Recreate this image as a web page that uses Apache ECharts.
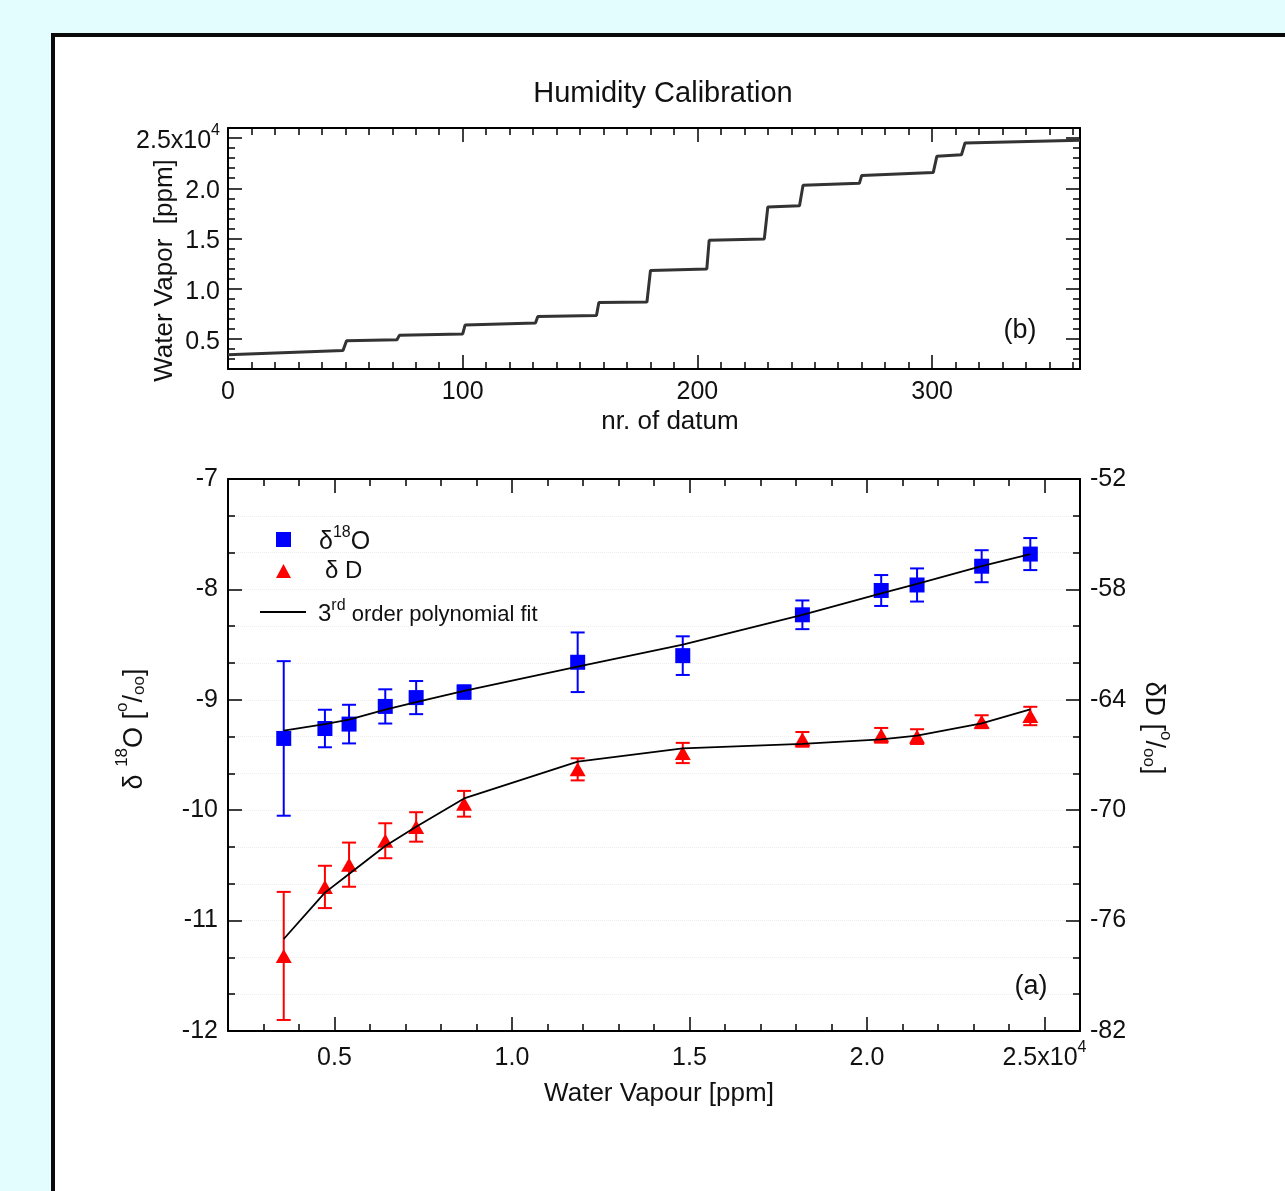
<!DOCTYPE html>
<html>
<head>
<meta charset="utf-8">
<script src="https://cdn.jsdelivr.net/npm/echarts@6/dist/echarts.min.js"></script>
<style>
  html, body { margin: 0; padding: 0; background: #e3fcfd; overflow: hidden; }
  #panel { position: absolute; left: 51px; top: 33px; width: 1400px; height: 1300px; border: 4px solid #0a0a0a; background: #fff; box-sizing: border-box; }
  #chart { position: absolute; left: 0; top: 0; width: 1285px; height: 1191px; }
</style>
</head>
<body>
<div id="panel"></div>
<div id="chart"></div>
<script>
// ---------------- data ----------------
// (b) water vapour record: corner points [nr. of datum, ppm]
const datumIndex = [0, 49, 50.5, 72, 73, 100, 101, 131, 132, 157, 158, 178.5, 180, 204, 205, 228.5, 230, 243.5, 245, 269, 270, 300.5, 302, 312.5, 314, 363];
const vaporPpm   = [3420, 3850, 4820, 4920, 5350, 5490, 6380, 6580, 7240, 7340, 8630, 8670, 11820, 11960, 14810, 14950, 18140, 18260, 20290, 20490, 21280, 21580, 23180, 23340, 24510, 24770];

// (a) calibration points
const vapourLevels = [3570, 4730, 5410, 6430, 7300, 8650, 11850, 14810, 18180, 20400, 21410, 23230, 24600];
const d18O      = [-9.35, -9.26, -9.22, -9.06, -8.98, -8.93, -8.66, -8.60, -8.23, -8.01, -7.96, -7.79, -7.68];
const d18OErr   = [0.70, 0.17, 0.175, 0.155, 0.15, 0.06, 0.27, 0.175, 0.13, 0.14, 0.15, 0.145, 0.145];
const d18OFit   = [-9.28, -9.22, -9.18, -9.09, -9.02, -8.92, -8.70, -8.50, -8.23, -8.035, -7.95, -7.79, -7.68];
const dD        = [-77.92, -74.17, -72.96, -71.66, -70.91, -69.65, -67.78, -66.89, -66.15, -65.93, -66.00, -65.19, -64.88];
const dDErr     = [3.48, 1.15, 1.2, 0.95, 0.8, 0.7, 0.6, 0.55, 0.4, 0.4, 0.4, 0.35, 0.5];
const dDFit     = [-77.0, -74.48, -73.47, -71.95, -70.90, -69.36, -67.36, -66.64, -66.40, -66.15, -65.95, -65.28, -64.52];

// tick labels
const vapourTicks = [5000, 10000, 15000, 20000, 25000];
const datumTicks  = [0, 100, 200, 300];
const d18OTicks   = [-12, -11, -10, -9, -8, -7];
const dDTicks     = [-82, -76, -70, -64, -58, -52];

// ---------------- styling helpers ----------------
const FONT = '"Liberation Sans", Arial, Helvetica, sans-serif';
const TXT = '#111';
const AX = '#000';
const LBL = 25;

const richLbl = {
  n:   { fontSize: LBL, fontFamily: FONT, color: TXT, lineHeight: 31, verticalAlign: 'bottom' },
  sup: { fontSize: 16, fontFamily: FONT, color: TXT, lineHeight: 16, verticalAlign: 'top' }
};
const richName = {
  n:   { fontSize: 27, fontFamily: FONT, color: TXT, lineHeight: 34, verticalAlign: 'bottom' },
  sup: { fontSize: 17, fontFamily: FONT, color: TXT, lineHeight: 17, verticalAlign: 'top' },
  sub: { fontSize: 17, fontFamily: FONT, color: TXT, lineHeight: 17, verticalAlign: 'bottom' }
};
function vapourLabel(v) {
  return v === 25000 ? '{n|2.5x10}{sup|4}' : '{n|' + (v / 10000).toFixed(1) + '}';
}

function baseAxis(o) {
  return Object.assign({
    type: 'value',
    nameMoveOverlap: false,
    axisLine: { show: true, onZero: false, lineStyle: { color: AX, width: 2 } },
    axisTick: { show: true, inside: true, length: 14, lineStyle: { color: AX, width: 1.5 } },
    axisLabel: { show: false },
    splitLine: { show: false },
    minorTick: { show: false },
    minorSplitLine: { show: false }
  }, o);
}
function minorAxis(o) {
  return Object.assign({
    type: 'value',
    axisLine: { show: false, onZero: false },
    axisTick: { show: true, inside: true, length: 7, lineStyle: { color: AX, width: 1.5 } },
    axisLabel: { show: false },
    splitLine: { show: false }
  }, o);
}

function errRender(color) {
  return function (params, api) {
    const x = api.value(0), lo = api.value(1), hi = api.value(2);
    const p1 = api.coord([x, hi]), p2 = api.coord([x, lo]);
    const w = 7;
    const style = { stroke: color, lineWidth: 2 };
    return {
      type: 'group',
      children: [
        { type: 'line', shape: { x1: p1[0], y1: p1[1], x2: p2[0], y2: p2[1] }, style: style },
        { type: 'line', shape: { x1: p1[0] - w, y1: p1[1], x2: p1[0] + w, y2: p1[1] }, style: style },
        { type: 'line', shape: { x1: p2[0] - w, y1: p2[1], x2: p2[0] + w, y2: p2[1] }, style: style }
      ]
    };
  };
}

const stepData = datumIndex.map((d, i) => [d, vaporPpm[i]]);
const oErrData = vapourLevels.map((x, i) => [x, d18O[i] - d18OErr[i], d18O[i] + d18OErr[i]]);
const dErrData = vapourLevels.map((x, i) => [x, dD[i] - dDErr[i], dD[i] + dDErr[i]]);
const oPts = vapourLevels.map((x, i) => [x, d18O[i]]);
const dPts = vapourLevels.map((x, i) => [x, dD[i]]);
const oFit = vapourLevels.map((x, i) => [x, d18OFit[i]]);
const dFit = vapourLevels.map((x, i) => [x, dDFit[i]]);

const chart = echarts.init(document.getElementById('chart'), null, { renderer: 'canvas' });

const option = {
  animation: false,
  backgroundColor: 'transparent',
  textStyle: { fontFamily: FONT },
  title: {
    text: 'Humidity Calibration',
    left: 658, top: 74, textAlign: 'center',
    textStyle: { fontSize: 29, fontWeight: 'normal', color: TXT, fontFamily: FONT }
  },
  grid: [
    { left: 228, top: 128, width: 852, height: 241, outerBoundsMode: 'none', containLabel: false },
    { left: 228, top: 479, width: 852, height: 552, outerBoundsMode: 'none', containLabel: false }
  ],
  xAxis: [
    // top chart
    baseAxis({
      gridIndex: 0, position: 'bottom', min: 0, max: 363, interval: 100,
      axisLabel: { show: true, margin: 11, fontSize: LBL, color: TXT, fontFamily: FONT,
        customValues: datumTicks, formatter: v => String(v) },
      axisTick: { show: true, inside: true, length: 14, customValues: datumTicks, lineStyle: { color: AX, width: 1.5 } },
      name: 'nr. of datum', nameLocation: 'middle', nameGap: 40,
      nameTextStyle: { fontSize: 26, color: TXT, fontFamily: FONT, padding: [0, 0, 0, 32] }
    }),
    minorAxis({ gridIndex: 0, position: 'bottom', min: 0, max: 363, interval: 10 }),
    baseAxis({ gridIndex: 0, position: 'top', min: 0, max: 363,
      axisTick: { show: true, inside: true, length: 14, customValues: datumTicks, lineStyle: { color: AX, width: 1.5 } } }),
    minorAxis({ gridIndex: 0, position: 'top', min: 0, max: 363, interval: 10 }),
    // bottom chart
    baseAxis({
      gridIndex: 1, position: 'bottom', min: 2000, max: 26000,
      axisLabel: { show: true, margin: 9, customValues: vapourTicks, formatter: vapourLabel, rich: richLbl },
      axisTick: { show: true, inside: true, length: 14, customValues: vapourTicks, lineStyle: { color: AX, width: 1.5 } },
      name: 'Water Vapour [ppm]', nameLocation: 'middle', nameGap: 50,
      nameTextStyle: { fontSize: 26, color: TXT, fontFamily: FONT, padding: [0, 0, 0, 10] }
    }),
    minorAxis({ gridIndex: 1, position: 'bottom', min: 2000, max: 26000, interval: 1000 }),
    baseAxis({ gridIndex: 1, position: 'top', min: 2000, max: 26000,
      axisTick: { show: true, inside: true, length: 14, customValues: vapourTicks, lineStyle: { color: AX, width: 1.5 } } }),
    minorAxis({ gridIndex: 1, position: 'top', min: 2000, max: 26000, interval: 1000 })
  ],
  yAxis: [
    // top chart
    baseAxis({
      gridIndex: 0, position: 'left', min: 2000, max: 26000,
      axisLabel: { show: true, margin: 8, customValues: vapourTicks, formatter: vapourLabel, rich: richLbl },
      axisTick: { show: true, inside: true, length: 14, customValues: vapourTicks, lineStyle: { color: AX, width: 1.5 } },
      name: 'Water Vapor  [ppm]', nameLocation: 'middle', nameRotate: 90, nameGap: 50,
      nameTextStyle: { fontSize: 26, color: TXT, fontFamily: FONT, padding: [0, 44, 0, 0] }
    }),
    minorAxis({ gridIndex: 0, position: 'left', min: 2000, max: 26000, interval: 1000 }),
    baseAxis({ gridIndex: 0, position: 'right', min: 2000, max: 26000,
      axisTick: { show: true, inside: true, length: 14, customValues: vapourTicks, lineStyle: { color: AX, width: 1.5 } } }),
    minorAxis({ gridIndex: 0, position: 'right', min: 2000, max: 26000, interval: 1000 }),
    // bottom chart left: delta 18O
    baseAxis({
      gridIndex: 1, position: 'left', min: -12, max: -7, interval: 1,
      axisLabel: { show: true, margin: 10, fontSize: LBL, color: TXT, fontFamily: FONT, formatter: v => String(v) },
      minorTick: { show: true, splitNumber: 3, length: 7, lineStyle: { color: AX, width: 1.5 } },
      splitLine: { show: true, lineStyle: { color: '#ededed', type: 'dotted', width: 1 } },
      minorSplitLine: { show: true, lineStyle: { color: '#ededed', type: 'dotted', width: 1 } },
      name: '{n|δ }{sup|18}{n|O [}{sup|o}{n|/}{sub|oo}{n|]}',
      nameLocation: 'middle', nameRotate: 90, nameGap: 80,
      nameTextStyle: { rich: richName, padding: [0, 0, 0, 52] }
    }),
    // bottom chart right: delta D
    baseAxis({
      gridIndex: 1, position: 'right', min: -82, max: -52,
      axisLabel: { show: true, margin: 10, fontSize: LBL, color: TXT, fontFamily: FONT,
        customValues: dDTicks, formatter: v => String(v) },
      axisTick: { show: true, inside: true, length: 14, customValues: dDTicks, lineStyle: { color: AX, width: 1.5 } },
      name: '{n|δD [}{sup|o}{n|/}{sub|oo}{n|]}',
      nameLocation: 'middle', nameRotate: -90, nameGap: 60,
      nameTextStyle: { rich: richName, padding: [0, 54, 0, 0] }
    }),
    minorAxis({ gridIndex: 1, position: 'right', min: -82, max: -52, interval: 2 })
  ],
  series: [
    {
      name: 'Water vapor', type: 'line', xAxisIndex: 0, yAxisIndex: 0,
      data: stepData, showSymbol: false, symbol: 'none',
      lineStyle: { color: '#333', width: 3 }, z: 3
    },
    {
      name: 'δ18O error', type: 'custom', xAxisIndex: 4, yAxisIndex: 4,
      data: oErrData, encode: { x: 0, y: [1, 2] }, renderItem: errRender('#0000ff'), z: 2
    },
    {
      name: 'δD error', type: 'custom', xAxisIndex: 4, yAxisIndex: 5,
      data: dErrData, encode: { x: 0, y: [1, 2] }, renderItem: errRender('#ff0000'), z: 2
    },
    {
      name: 'δ18O', type: 'scatter', xAxisIndex: 4, yAxisIndex: 4, data: oPts,
      symbol: 'rect', symbolSize: 15, itemStyle: { color: '#0000ff', opacity: 1 }, z: 3
    },
    {
      name: 'δ D', type: 'scatter', xAxisIndex: 4, yAxisIndex: 5, data: dPts,
      symbol: 'triangle', symbolSize: [16, 14], itemStyle: { color: '#ff0000', opacity: 1 }, z: 3
    },
    {
      name: '3rd order polynomial fit (δ18O)', type: 'line', xAxisIndex: 4, yAxisIndex: 4, data: oFit,
      showSymbol: false, symbol: 'none', lineStyle: { color: '#000', width: 1.8 }, z: 4
    },
    {
      name: '3rd order polynomial fit (δD)', type: 'line', xAxisIndex: 4, yAxisIndex: 5, data: dFit,
      showSymbol: false, symbol: 'none', lineStyle: { color: '#000', width: 1.8 }, z: 4
    }
  ],
  graphic: [
    // legend
    { type: 'rect', shape: { x: 276, y: 532, width: 15, height: 15 }, style: { fill: '#0000ff' }, z: 10 },
    { type: 'text', x: 319, y: 540, z: 10, style: { text: '{n|δ}{sup|18}{n|O}', rich: {
        n: { fontSize: 25, fontFamily: FONT, fill: TXT, lineHeight: 30, verticalAlign: 'bottom' },
        sup: { fontSize: 16, fontFamily: FONT, fill: TXT, lineHeight: 16, verticalAlign: 'top' } },
        verticalAlign: 'middle', align: 'left' } },
    { type: 'polygon', shape: { points: [[276, 578], [291, 578], [283.5, 564]] }, style: { fill: '#ff0000' }, z: 10 },
    { type: 'text', x: 325, y: 571, z: 10, style: { text: 'δ D', font: '24px ' + FONT, fill: TXT, verticalAlign: 'middle', align: 'left' } },
    { type: 'line', shape: { x1: 260, y1: 612, x2: 306, y2: 612 }, style: { stroke: '#000', lineWidth: 1.8 }, z: 10 },
    { type: 'text', x: 318, y: 612, z: 10, style: { text: '{b|3}{sup|rd}{n| order polynomial fit}', rich: {
        b: { fontSize: 24, fontFamily: FONT, fill: TXT, lineHeight: 28, verticalAlign: 'bottom' },
        n: { fontSize: 22, fontFamily: FONT, fill: TXT, lineHeight: 25, verticalAlign: 'bottom' },
        sup: { fontSize: 16, fontFamily: FONT, fill: TXT, lineHeight: 16, verticalAlign: 'top' } },
        verticalAlign: 'middle', align: 'left' } },
    // panel labels
    { type: 'text', x: 1031, y: 987, z: 10, style: { text: '(a)', font: '27px ' + FONT, fill: TXT, align: 'center', verticalAlign: 'middle' } },
    { type: 'text', x: 1020, y: 331, z: 10, style: { text: '(b)', font: '27px ' + FONT, fill: TXT, align: 'center', verticalAlign: 'middle' } }
  ]
};

chart.setOption(option);
</script>
</body>
</html>
